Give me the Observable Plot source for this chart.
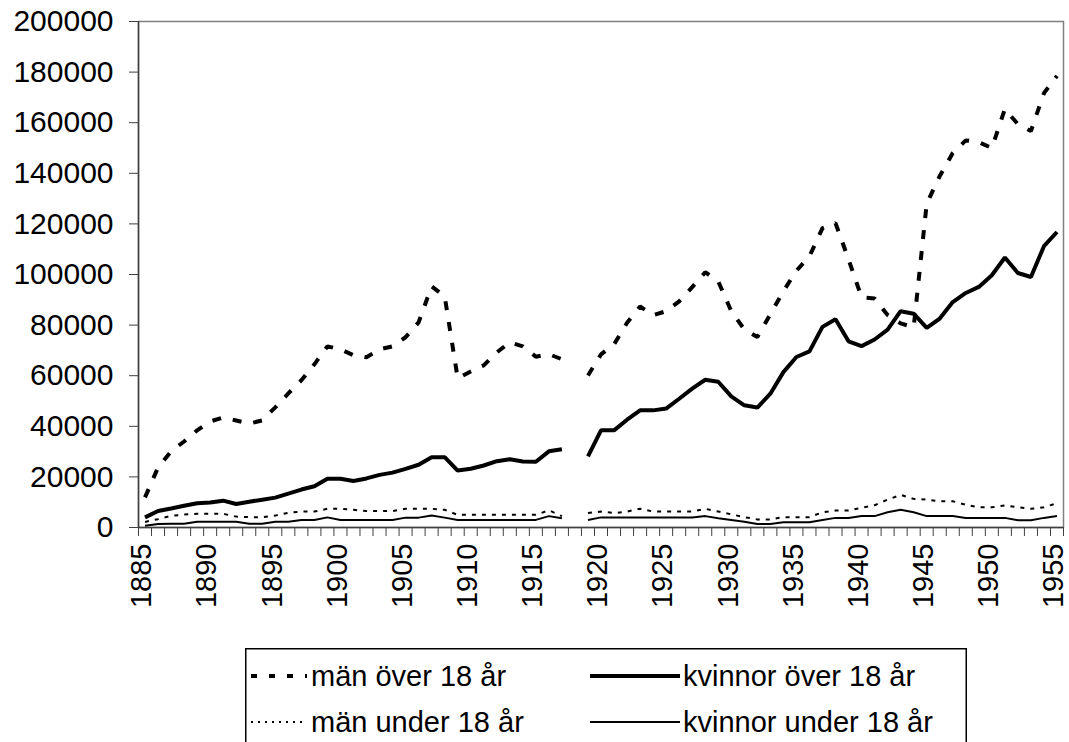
<!DOCTYPE html>
<html><head><meta charset="utf-8">
<script src="https://cdn.jsdelivr.net/npm/d3@7"></script>
<script src="https://cdn.jsdelivr.net/npm/@observablehq/plot@0.6"></script>
<style>
html,body{margin:0;padding:0;background:#fff;overflow:hidden;width:1069px;height:742px;}
#chart svg{display:block;}
#legend{position:absolute;left:245px;top:648px;}
</style></head>
<body>
<div id="chart"></div>
<div id="legend"></div>
<script>
const years = [1885,1886,1887,1888,1889,1890,1891,1892,1893,1894,1895,1896,1897,1898,1899,1900,1901,1902,1903,1904,1905,1906,1907,1908,1909,1910,1911,1912,1913,1914,1915,1916,1917,1918,1919,1920,1921,1922,1923,1924,1925,1926,1927,1928,1929,1930,1931,1932,1933,1934,1935,1936,1937,1938,1939,1940,1941,1942,1943,1944,1945,1946,1947,1948,1949,1950,1951,1952,1953,1954,1955];

const manOver18 = [11900,23700,30100,34000,38400,41900,43500,42300,41100,42300,47500,53000,58200,64500,71600,70400,68100,67300,70400,71600,75200,81100,95300,91400,59000,61700,64100,69200,73200,71600,67500,68500,66500,null,60100,68400,72400,80900,87400,83900,85500,89400,95000,100900,97300,85500,78300,75300,84300,93400,101500,107200,118300,120300,106000,91000,90500,84000,80700,79100,128000,138900,148000,153000,152300,150000,165400,159400,156700,171700,178500];

const kvinnorOver18 = [4000,6500,7500,8600,9600,9900,10600,9300,10200,11000,11800,13400,15000,16300,19300,19300,18400,19400,20800,21700,23200,24800,27800,27800,22500,23200,24500,26200,27000,26100,26000,30100,30900,null,28100,38400,38400,42600,46300,46300,47000,50900,54900,58400,57600,51800,48300,47400,52900,61400,67400,69600,79300,82300,73600,71700,74300,78200,85500,84500,78900,82600,89100,92700,95100,99700,106700,100600,99000,111200,116800];

const manUnder18 = [2200,3300,4600,5100,5400,5400,5400,4300,4100,4100,4700,5800,6300,6300,7400,7400,7000,6500,6500,6500,7400,7400,7400,7000,5000,5000,5000,5000,5000,5000,5000,6800,4500,null,5700,6300,5700,6300,7400,6300,6300,6300,6300,7400,6300,5200,4100,3200,3200,4100,4100,4100,6000,6700,6700,7800,8800,11000,12900,11300,11000,10400,10400,9000,8000,8000,8700,8000,7400,8000,9600];

const kvinnorUnder18 = [700,1400,1500,1500,2300,2300,2300,2300,1500,1500,2300,2300,3000,3000,4000,3000,3000,3000,3000,3000,3900,3900,4700,3900,3000,3000,3000,3000,3000,3000,3000,4500,3700,null,3000,4000,4000,4000,4000,4000,4000,4000,4000,4500,3700,3000,2300,1400,1400,2100,2100,2100,3000,3800,3800,4500,4500,6000,7000,6000,4500,4500,4500,3800,3800,3800,3800,2900,2900,3800,4500];

const seriesNames = ["män över 18 år","kvinnor över 18 år","män under 18 år","kvinnor under 18 år"];
const seriesValues = [manOver18, kvinnorOver18, manUnder18, kvinnorUnder18];
const xTickLabels = [1885,1890,1895,1900,1905,1910,1915,1920,1925,1930,1935,1940,1945,1950,1955];
const yTicks = [0,20000,40000,60000,80000,100000,120000,140000,160000,180000,200000];

const styles = [
  {strokeWidth:4, strokeDasharray:"9,12", legendDash:"6,12"},
  {strokeWidth:4, strokeDasharray:null, legendDash:null},
  {strokeWidth:2, strokeDasharray:"4,6", legendDash:"2,5"},
  {strokeWidth:2, strokeDasharray:null, legendDash:null}
];

const rows = [];
seriesNames.forEach((name, si) => {
  years.forEach((yr, i) => rows.push({name, year: yr, value: seriesValues[si][i]}));
});

const boundaries = years.map(y => y - 0.5).concat([years[years.length-1] + 0.5]);
const FONT = "Liberation Sans, Arial, sans-serif";

const lineMarks = seriesNames.map((name, si) => Plot.line(rows.filter(d => d.name === name), {
  x: "year", y: "value", stroke: "#000",
  strokeWidth: styles[si].strokeWidth,
  strokeDasharray: styles[si].strokeDasharray || undefined,
  strokeLinecap: "butt", strokeLinejoin: "miter"
}));

const chart = Plot.plot({
  width: 1069, height: 640,
  marginLeft: 138, marginRight: 6, marginTop: 21, marginBottom: 113,
  x: {type: "linear", domain: [boundaries[0], boundaries[boundaries.length-1]], label: null},
  y: {domain: [0, 200000], label: null},
  style: {fontFamily: FONT, fontSize: "30px", color: "#000", background: "#fff"},
  marks: [
    Plot.frame({stroke: "#808080", strokeWidth: 1.5}),
    Plot.axisY({ticks: yTicks, tickSize: 9, tickPadding: 16, tickFormat: d => String(d), fontSize: 30, stroke: "#404040", label: null}),
    Plot.axisX({ticks: boundaries, tickSize: 9, tickFormat: () => "", stroke: "#404040", label: null}),
    Plot.ruleX([boundaries[0]], {stroke: "#404040", strokeWidth: 1.5}),
    Plot.ruleY([0], {stroke: "#404040", strokeWidth: 1.5}),
    Plot.text(xTickLabels, {x: d => d, text: d => String(d), frameAnchor: "bottom", rotate: -90, textAnchor: "end", lineAnchor: "middle", dx: -3, dy: 16, fontSize: 29, fill: "#000"}),
    ...lineMarks
  ]
});
document.getElementById("chart").appendChild(chart);

// Legend
const lw = 722, lh = 110;
const lsvg = d3.select("#legend").append("svg").attr("width", lw).attr("height", lh);
lsvg.append("rect").attr("x", 0.75).attr("y", 0.75).attr("width", lw - 1.5).attr("height", lh - 1.5)
  .attr("fill", "#fff").attr("stroke", "#000").attr("stroke-width", 1.5);
const pos = [
  {x1: 6, x2: 62, tx: 66, y: 28},
  {x1: 345, x2: 435, tx: 438, y: 28},
  {x1: 6, x2: 62, tx: 66, y: 74},
  {x1: 345, x2: 435, tx: 438, y: 74}
];
seriesNames.forEach((name, si) => {
  const p = pos[si];
  const ln = lsvg.append("line").attr("x1", p.x1).attr("x2", p.x2).attr("y1", p.y).attr("y2", p.y)
    .attr("stroke", "#000").attr("stroke-width", styles[si].strokeWidth);
  if (styles[si].legendDash) ln.attr("stroke-dasharray", styles[si].legendDash);
  lsvg.append("text").attr("x", p.tx).attr("y", p.y).attr("dy", "0.36em")
    .attr("font-family", FONT).attr("font-size", 29).attr("fill", "#000").text(name);
});
</script>
</body></html>
